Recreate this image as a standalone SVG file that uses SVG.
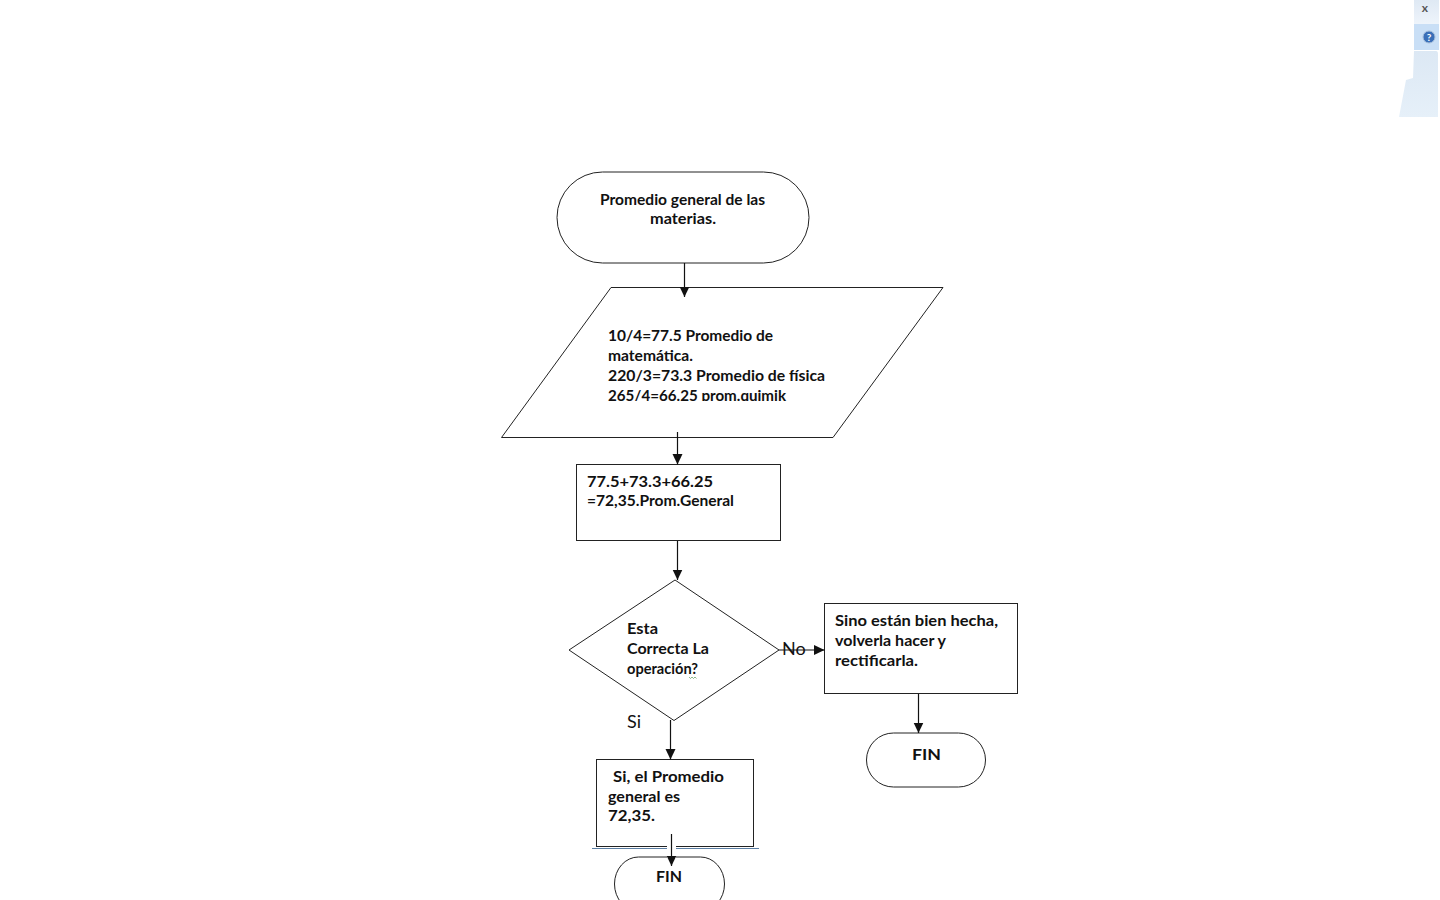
<svg xmlns="http://www.w3.org/2000/svg" width="1440" height="900" viewBox="0 0 1440 900">
<style>
.s{fill:#fff;stroke:#222;stroke-width:1}
.c{fill:none;stroke:#111;stroke-width:1.2}
text{font-family:"Lato","Noto Sans",sans-serif;font-weight:700;font-size:14.5px;fill:#111}
.l{font-weight:400;font-size:18px}
</style>
<defs>
<marker id="a" markerUnits="userSpaceOnUse" markerWidth="12" markerHeight="11" refX="10.500" refY="5" orient="auto"><path d="M0 0L10.500 5L0 10Z" fill="#111"/></marker>
<clipPath id="q"><rect x="600" y="325" width="240" height="76"/></clipPath>
<linearGradient id="p" x1="0" y1="0" x2="0" y2="1"><stop offset="0" stop-color="#dce8f4"/><stop offset="1" stop-color="#e6f0f9"/></linearGradient>
<linearGradient id="t" x1="0" y1="0" x2="0" y2="1"><stop offset="0" stop-color="#dfe9f4"/><stop offset="1" stop-color="#eef4fb"/></linearGradient>
</defs>
<rect width="1440" height="900" fill="#fff"/>
<g id="panel">
<rect x="1414" y="0" width="25" height="24" fill="url(#t)"/>
<rect x="1414" y="24" width="25" height="26" fill="#c9dff6"/>
<path d="M1414 51H1436Q1438 51 1438 54V117H1399L1406 80L1413 78Z" fill="url(#p)"/>
<circle cx="1429" cy="37" r="6" fill="#3a6fb8" stroke="#a6bedb"/>
<text x="1429" y="41" text-anchor="middle" style="font-size:10px;fill:#fff">?</text>
<text x="1425" y="12" text-anchor="middle" style="font-size:12px;fill:#555">x</text>
</g>
<g id="n1"><rect class="s" x="557" y="172" width="252" height="91" rx="45.5"/>
<text x="600" y="205" textLength="165" lengthAdjust="spacingAndGlyphs">Promedio general de las</text>
<text x="650" y="224" textLength="66" lengthAdjust="spacingAndGlyphs">materias.</text></g>
<g id="n2"><path class="s" d="M611 287.500H943L833 437.500H501.500Z"/>
<g clip-path="url(#q)">
<text x="608" y="341" textLength="165" lengthAdjust="spacingAndGlyphs">10/4=77.5 Promedio de</text>
<text x="608" y="361" textLength="85" lengthAdjust="spacingAndGlyphs">matemática.</text>
<text x="608" y="381" textLength="217" lengthAdjust="spacingAndGlyphs">220/3=73.3 Promedio de física</text>
<text x="608" y="401" textLength="178" lengthAdjust="spacingAndGlyphs">265/4=66.25 prom.quimik</text>
</g></g>
<g id="n3"><rect class="s" x="576.500" y="464.500" width="204" height="76"/>
<text x="587" y="487" textLength="126" lengthAdjust="spacingAndGlyphs">77.5+73.3+66.25</text>
<text x="587" y="506" textLength="147" lengthAdjust="spacingAndGlyphs">=72,35.Prom.General</text></g>
<g id="n4"><path class="s" d="M675 580L779 650L674 720.500L569 650Z"/>
<text x="627" y="634" textLength="31" lengthAdjust="spacingAndGlyphs">Esta</text>
<text x="627" y="654" textLength="82" lengthAdjust="spacingAndGlyphs">Correcta La</text>
<text x="627" y="674" textLength="71" lengthAdjust="spacingAndGlyphs">operación?</text>
<path d="M689 677l1.500 1.500l1.500-1.500l1.500 1.500l1.500-1.500l1.500 1.500" fill="none" stroke="#5a9a5a" stroke-width=".7"/></g>
<g id="n5"><rect class="s" x="824.500" y="603.500" width="193" height="90"/>
<text x="835" y="626" textLength="163" lengthAdjust="spacingAndGlyphs">Sino están bien hecha,</text>
<text x="835" y="646" textLength="111" lengthAdjust="spacingAndGlyphs">volverla hacer y</text>
<text x="835" y="666" textLength="83" lengthAdjust="spacingAndGlyphs">rectificarla.</text></g>
<g id="n6"><rect class="s" x="866.500" y="733" width="119" height="54" rx="27"/>
<text x="912" y="760" textLength="29" lengthAdjust="spacingAndGlyphs">FIN</text></g>
<g id="n7"><rect class="s" x="596.500" y="759.500" width="157" height="87"/>
<text x="613" y="782" textLength="111" lengthAdjust="spacingAndGlyphs">Si, el Promedio</text>
<text x="608" y="802" textLength="72" lengthAdjust="spacingAndGlyphs">general es</text>
<text x="608" y="821" textLength="47" lengthAdjust="spacingAndGlyphs">72,35.</text></g>
<path id="rule" d="M592 848.500H759" stroke="#5b7ea3" stroke-width="1" fill="none"/>
<g id="n8"><rect class="s" x="614.500" y="857" width="110" height="54" rx="24" ry="27"/>
<text x="656" y="882" textLength="26" lengthAdjust="spacingAndGlyphs">FIN</text></g>
<g id="labels"><text class="l" x="627" y="728">Si</text><text class="l" x="782" y="655">No</text></g>
<g id="connectors">
<path class="c" d="M684.500 263V297" marker-end="url(#a)"/>
<path class="c" d="M677.500 432V464.500" marker-end="url(#a)"/>
<path class="c" d="M677.500 541V580" marker-end="url(#a)"/>
<path class="c" d="M779 650H824.500" marker-end="url(#a)"/>
<path class="c" d="M670.500 720V759.500" marker-end="url(#a)"/>
<path class="c" d="M918.500 694V733" marker-end="url(#a)"/>
<path d="M667 845h9v14h-9z" fill="#fff"/>
<path class="c" d="M671.500 834V866" marker-end="url(#a)"/>
</g>
</svg>
